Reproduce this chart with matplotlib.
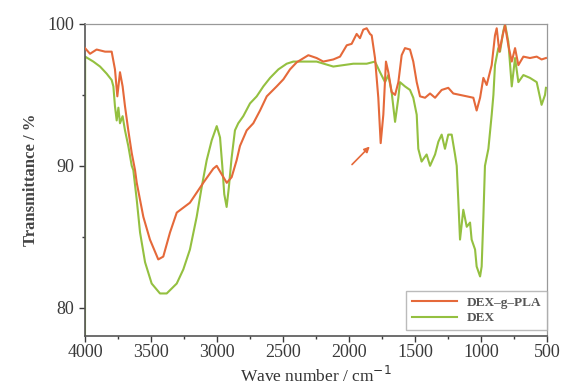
import matplotlib
matplotlib.use("Agg")
import matplotlib.pyplot as plt
import numpy as np

# DEX-g-PLA spectrum (wavenumber cm-1, transmittance %)
pla_wn = [4000, 3962, 3912, 3848, 3798, 3773, 3755, 3735, 3715, 3697, 3672, 3646, 3621,
          3608, 3558, 3508, 3445, 3407, 3356, 3305, 3205, 3104, 3028, 3002, 2977, 2926,
          2889, 2851, 2826, 2775, 2725, 2674, 2623, 2548, 2497, 2447, 2396, 2308, 2245,
          2195, 2119, 2068, 2017, 1980, 1942, 1917, 1892, 1866, 1841, 1828, 1803, 1778,
          1760, 1740, 1720, 1702, 1677, 1651, 1626, 1601, 1576, 1538, 1513, 1487, 1462,
          1424, 1386, 1348, 1298, 1248, 1210, 1159, 1108, 1058, 1033, 1007, 982, 957,
          919, 894, 881, 861, 836, 818, 793, 767, 742, 717, 679, 629, 578, 541, 508]
pla_t = [98.3, 97.9, 98.2, 98.05, 98.05, 96.8, 94.9, 96.6, 95.6, 94.2, 92.5, 90.9, 89.7,
         88.8, 86.4, 84.8, 83.4, 83.6, 85.3, 86.7, 87.4, 88.8, 89.8, 90.0, 89.6, 88.8,
         89.2, 90.4, 91.4, 92.5, 93.0, 93.9, 94.9, 95.6, 96.1, 96.8, 97.3, 97.8, 97.6,
         97.35, 97.5, 97.7, 98.5, 98.6, 99.3, 99.0, 99.6, 99.7, 99.3, 99.2, 97.6, 94.8,
         91.6, 93.6, 97.35, 96.6, 95.2, 95.0, 95.9, 97.8, 98.3, 98.2, 97.35, 95.9, 94.9,
         94.8, 95.1, 94.8, 95.35, 95.5, 95.1, 95.0, 94.9, 94.8, 93.9, 94.8, 96.2, 95.7,
         97.1, 99.2, 99.7, 98.05, 99.2, 99.9, 98.5, 97.35, 98.3, 97.1, 97.7, 97.6, 97.7, 97.5, 97.6]

# DEX spectrum
dex_wn = [4000, 3999, 3937, 3886, 3836, 3798, 3785, 3773, 3760, 3747, 3735, 3715, 3697,
          3672, 3646, 3634, 3608, 3583, 3545, 3495, 3432, 3381, 3305, 3255, 3205, 3154,
          3116, 3078, 3040, 3002, 2977, 2960, 2945, 2927, 2910, 2890, 2864, 2839, 2801,
          2750, 2699, 2649, 2598, 2535, 2472, 2422, 2346, 2245, 2119, 2043, 1967, 1866,
          1803, 1765, 1727, 1702, 1677, 1651, 1626, 1614, 1576, 1538, 1513, 1487, 1475,
          1450, 1412, 1386, 1348, 1323, 1298, 1273, 1248, 1222, 1197, 1184, 1172, 1159,
          1134, 1108, 1083, 1071, 1045, 1033, 1007, 995, 982, 970, 944, 919, 906, 894,
          869, 856, 831, 818, 793, 767, 742, 717, 679, 629, 578, 541, 515, 508]
dex_t = [77.0, 97.7, 97.35, 97.0, 96.5, 96.05, 95.6, 94.2, 93.2, 94.1, 93.0, 93.5, 92.5,
         91.4, 90.0, 89.7, 87.6, 85.3, 83.2, 81.7, 81.0, 81.0, 81.7, 82.7, 84.1, 86.4,
         88.5, 90.4, 91.8, 92.8, 92.0, 90.0, 88.0, 87.1, 88.5, 90.5, 92.5, 93.0, 93.5,
         94.4, 94.9, 95.6, 96.2, 96.8, 97.2, 97.35, 97.35, 97.35, 97.0, 97.1, 97.2, 97.2,
         97.35, 96.6, 95.9, 96.4, 95.2, 93.1, 94.8, 95.9, 95.6, 95.35, 94.8, 93.6, 91.2,
         90.3, 90.8, 90.0, 90.8, 91.7, 92.2, 91.2, 92.2, 92.2, 90.8, 90.0, 87.6, 84.8,
         86.9, 85.7, 86.0, 84.8, 84.1, 82.9, 82.2, 82.9, 86.4, 90.0, 91.2, 93.6, 95.0, 97.1,
         98.3, 98.05, 99.5, 100.0, 98.75, 95.6, 97.6, 95.9, 96.4, 96.2, 95.9, 94.3, 95.0, 95.5]

x_ticks = [4000, 3500, 3000, 2500, 2000, 1500, 1000, 500]
y_ticks = [80, 90, 100]
labels = ["DEX\u2013g\u2013PLA", "DEX"]

plt.rcParams['font.family'] = ['Liberation Serif', 'DejaVu Serif']

fig = plt.figure(figsize=(5.62, 3.92), dpi=100)
ax = fig.add_axes([85/562, 1 - 336/392, 462/562, 312/392])

c_pla = '#e5693a'
c_dex = '#94c040'
ax.plot(pla_wn, pla_t, color=c_pla, lw=1.5, label=labels[0], zorder=3)
ax.plot(dex_wn, dex_t, color=c_dex, lw=1.5, label=labels[1], zorder=2)

ax.set_xlim(4000, 500)
ax.set_ylim(78, 100)
ax.set_xticks(x_ticks)
ax.set_yticks(y_ticks)
ax.set_xticks(np.arange(3750, 500, -500), minor=True)
ax.set_yticks([85, 95], minor=True)
ax.tick_params(axis='both', which='major', direction='out', length=4, width=1, labelsize=13, colors='#3a3a3a')
ax.tick_params(axis='both', which='minor', direction='out', length=2.5, width=1, colors='#3a3a3a')
ax.tick_params(axis='x', pad=2)
for s in ['top', 'right']:
    ax.spines[s].set_color('#999999')
    ax.spines[s].set_linewidth(0.9)
for s in ['left', 'bottom']:
    ax.spines[s].set_color('#555555')
    ax.spines[s].set_linewidth(1.2)

ax.annotate('', xy=(1828, 91.5), xytext=(1992, 89.95),
            arrowprops=dict(arrowstyle='-|>', color=c_pla, lw=1.2, mutation_scale=8))

ax.set_xlabel('Wave number / cm$^{-1}$', fontsize=12.5, labelpad=3, color='#333333')
ax.set_ylabel('Transmittance / %', fontsize=12, fontweight='bold', labelpad=6, color='#444444')

leg = ax.legend(loc='lower right', bbox_to_anchor=(1.0, 0.02), borderaxespad=0.0, frameon=True,
                fancybox=False, edgecolor='#aaaaaa', handlelength=3.4, borderpad=0.4,
                labelspacing=0.25, prop={'weight': 'bold', 'size': 9.5})
for t in leg.get_texts():
    t.set_color('#555555')

fig.savefig('out.png', dpi=100)
